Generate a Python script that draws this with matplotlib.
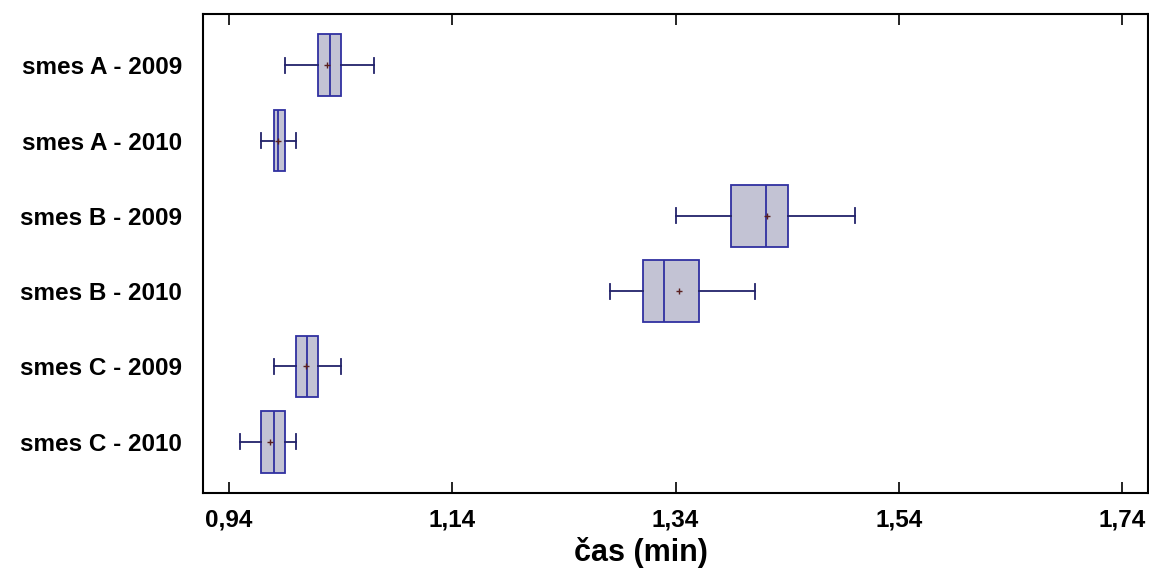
import numpy as np
import matplotlib
matplotlib.use("Agg")
import matplotlib.pyplot as plt

plt.rcParams['font.family'] = ['Liberation Sans', 'DejaVu Sans']

# skupiny a statistiky (min)
labels = ["smes A - 2009", "smes A - 2010", "smes B - 2009",
          "smes B - 2010", "smes C - 2009", "smes C - 2010"]
whislo = [0.990, 0.969, 1.340, 1.281, 0.980, 0.950]
q1 = [1.020, 0.980, 1.390, 1.311, 1.000, 0.969]
med = [1.030, 0.984, 1.421, 1.330, 1.010, 0.980]
q3 = [1.040, 0.990, 1.441, 1.361, 1.020, 0.990]
whishi = [1.070, 1.000, 1.501, 1.411, 1.040, 1.000]
means = [1.028, 0.984, 1.422, 1.343, 1.009, 0.977]

xticks = [0.94, 1.14, 1.34, 1.54, 1.74]

stats = []
for i in range(len(labels)):
    stats.append(dict(label=labels[i], whislo=whislo[i], q1=q1[i], med=med[i],
                      q3=q3[i], whishi=whishi[i], mean=means[i], fliers=[]))

fig = plt.figure(figsize=(11.49, 5.70), dpi=100)
ax = fig.add_axes([0.1767, 0.1351, 0.8225, 0.8403])

pos = np.arange(1, len(labels) + 1)
edge = "#3030a0"
ax.bxp(stats, positions=pos, vert=False, widths=0.82, capwidths=0.2,
       showmeans=True, patch_artist=True,
       boxprops=dict(facecolor="#c3c3d4", edgecolor=edge, linewidth=1.3),
       medianprops=dict(color=edge, linewidth=1.3),
       whiskerprops=dict(color="#22226a", linewidth=1.3),
       capprops=dict(color="#22226a", linewidth=1.3),
       meanprops=dict(marker="+", markeredgecolor="#5a2020", markersize=5,
                      markeredgewidth=1.0))

ax.set_xlim(0.9167, 1.7633)
ax.set_ylim(6.68, 0.32)
ax.set_xticks(xticks)
ax.set_xticklabels([("%.2f" % v).replace(".", ",") for v in xticks],
                   fontsize=17.5, fontweight="bold")
ax.set_yticks(pos)
ax.set_yticklabels(labels, fontsize=17.5, fontweight="bold")
ax.tick_params(axis="x", direction="in", length=8, width=1.2, top=True,
               pad=11, colors="black")
ax.tick_params(axis="y", length=0, pad=15)
for s in ax.spines.values():
    s.set_linewidth(1.5)

ax.set_xlabel("čas (min)", fontsize=22, fontweight="bold")
ax.xaxis.set_label_coords(0.4635, -0.092)

fig.savefig("out.png", dpi=100)
